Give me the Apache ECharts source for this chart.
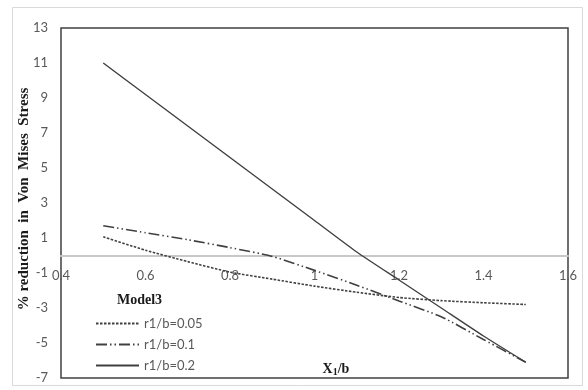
<!DOCTYPE html>
<html>
<head>
<meta charset="utf-8">
<script src="https://cdn.jsdelivr.net/npm/echarts@6/dist/echarts.min.js"></script>
<style>html,body{margin:0;padding:0;background:#fff}#c{width:588px;height:390px}</style>
</head>
<body>
<div id="c"></div>
<script>
var xValues = [0.5, 0.6, 0.7, 0.8, 0.9, 1.0, 1.1, 1.2, 1.3, 1.4, 1.5];
var seriesNames = ['r1/b=0.05', 'r1/b=0.1', 'r1/b=0.2'];
var r005 = [1.07, 0.3, -0.35, -0.95, -1.35, -1.75, -2.1, -2.4, -2.58, -2.7, -2.8];
var r01 = [1.7, 1.3, 0.9, 0.45, -0.05, -0.85, -1.7, -2.6, -3.5, -4.8, -6.1];
var r02 = [11.0, 9.2, 7.4, 5.6, 3.8, 2.0, 0.2, -1.4, -3.0, -4.6, -6.1];
var xTicks = [0.4, 1.6, 0.2];
var yTicks = [-7, 13, 2];

function pairs(ys){ return xValues.map(function(x,i){ return [x, ys[i]]; }); }

var chart = echarts.init(document.getElementById('c'));
var lineColor = '#404040';
var tickFont = 'Lato, "Open Sans", sans-serif';
var gridTop = 28, gridBottom = 12, plotH = 390 - gridTop - gridBottom;
var zeroOffset = -plotH * (0 - yTicks[0]) / (yTicks[1] - yTicks[0]);
chart.setOption({
  animation: false,
  backgroundColor: '#fff',
  grid: {left: 61, right: 20, top: gridTop, bottom: gridBottom, show: true, borderColor: '#404040', borderWidth: 1.5, backgroundColor: 'transparent'},
  xAxis: {
    type: 'value', min: xTicks[0], max: xTicks[1], interval: xTicks[2],
    position: 'bottom', offset: zeroOffset,
    axisLine: {show: true, onZero: false, lineStyle: {color: '#c8c8c8', width: 2}},
    axisTick: {show: false},
    splitLine: {show: false},
    axisLabel: {color: '#595959', fontSize: 13, fontFamily: tickFont, margin: 14,
      formatter: function(v){ return String(Math.round(v*10)/10); }}
  },
  yAxis: {
    type: 'value', min: yTicks[0], max: yTicks[1], interval: yTicks[2],
    axisLine: {show: false},
    axisTick: {show: false},
    splitLine: {show: false},
    axisLabel: {color: '#595959', fontSize: 13, fontFamily: tickFont, margin: 13}
  },
  legend: {
    orient: 'vertical', left: 90, top: 312, itemWidth: 43, itemHeight: 14, itemGap: 8,
    itemStyle: {opacity: 0},
    textStyle: {color: '#595959', fontSize: 13, fontFamily: tickFont},
    data: seriesNames
  },
  series: [
    {name: seriesNames[0], type: 'line', data: pairs(r005), symbol: 'none', smooth: 0.2,
     lineStyle: {color: lineColor, width: 1.6, type: [2.5, 1.5]}, itemStyle: {color: lineColor}},
    {name: seriesNames[1], type: 'line', data: pairs(r01), symbol: 'none', smooth: 0.2,
     lineStyle: {color: lineColor, width: 1.6, type: [11, 3, 1.5, 3, 1.5, 3]}, itemStyle: {color: lineColor}},
    {name: seriesNames[2], type: 'line', data: pairs(r02), symbol: 'none', smooth: 0.2,
     lineStyle: {color: lineColor, width: 1.4, type: 'solid'}, itemStyle: {color: lineColor}}
  ],
  graphic: [
    {type: 'rect', shape: {x: 12.5, y: 7.5, width: 570, height: 378}, style: {fill: 'none', stroke: '#d9d9d9', lineWidth: 1}, z: -1},
    {type: 'text', x: 24, y: 199, rotation: Math.PI/2,
     style: {text: '% reduction  in  Von  Mises  Stress', font: 'bold 15px "Liberation Serif", serif', fill: '#1a1a1a', align: 'center', verticalAlign: 'middle'}},
    {type: 'text', x: 336, y: 369,
     style: {text: 'X{s|1}/b', font: 'bold 14px "Liberation Serif", serif', fill: '#1a1a1a', align: 'center', verticalAlign: 'middle',
       rich: {s: {font: 'bold 10px "Liberation Serif", serif', fill: '#1a1a1a', verticalAlign: 'bottom', padding: [6,0,0,0]}}}},
    {type: 'text', x: 117, y: 300,
     style: {text: 'Model3', font: 'bold 14px "Liberation Serif", serif', fill: '#1a1a1a', align: 'left', verticalAlign: 'middle'}}
  ]
});
</script>
</body>
</html>
